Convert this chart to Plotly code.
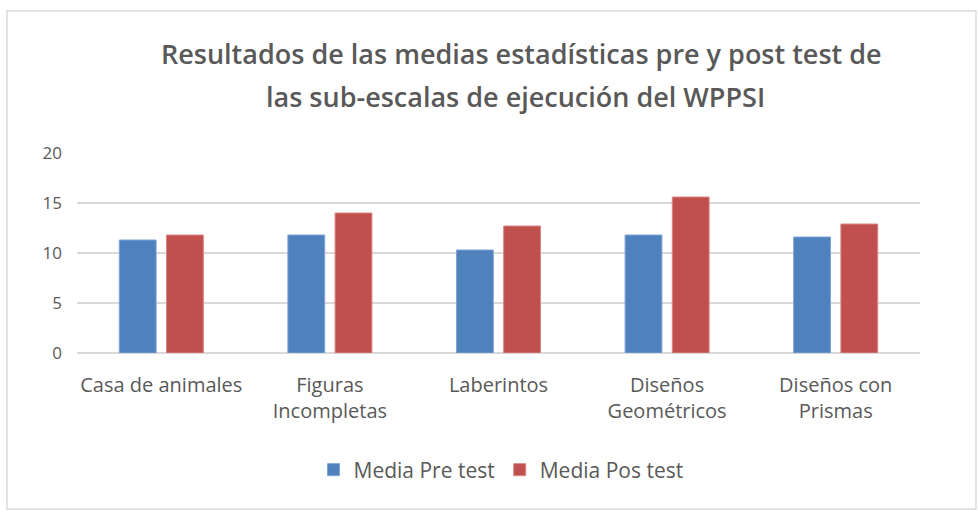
import plotly.graph_objects as go

categories = ["Casa de animales", "Figuras<br>Incompletas", "Laberintos",
              "Diseños<br>Geométricos", "Diseños con<br>Prismas"]
pre_test = [11.3, 11.8, 10.3, 11.8, 11.6]
post_test = [11.8, 14.0, 12.7, 15.6, 12.9]
y_ticks = [0, 5, 10, 15, 20]

W, H = 979, 511
L, R, T, B = 77, 59, 153, 158
pw, ph = W - L - R, H - T - B

font = "Open Sans"
grey = "#595959"

fig = go.Figure()
fig.add_trace(go.Bar(name="Media Pre test", x=categories, y=pre_test,
                     marker=dict(color="#4F81BD", line=dict(color="#7EA3D6", width=1))))
fig.add_trace(go.Bar(name="Media Pos test", x=categories, y=post_test,
                     marker=dict(color="#C0504D", line=dict(color="#D98683", width=1))))

def px_x(p):
    return (p - L) / pw

def px_y(p):
    return (H - B - p) / ph

fig.update_layout(
    width=W, height=H,
    margin=dict(l=L, r=R, t=T, b=B),
    paper_bgcolor="white", plot_bgcolor="white",
    barmode="group", bargap=0.44, bargroupgap=0.22,
    font=dict(family=font, color=grey, size=17),
    showlegend=True,
    legend=dict(orientation="h", x=0.503, xanchor="center", y=px_y(470), yanchor="middle",
                font=dict(size=21, color=grey), itemwidth=30, traceorder="normal"),
    xaxis=dict(showgrid=False, showline=False, ticks="", tickfont=dict(size=20, color=grey),
               ticklabelstandoff=18),
    yaxis=dict(range=[0, 20], tickvals=y_ticks, showgrid=True, gridcolor="#D9D9D9",
               gridwidth=1.5, zeroline=True, zerolinecolor="#D9D9D9", zerolinewidth=1.5,
               showline=False, ticks="", tickfont=dict(size=17, color=grey),
               ticklabelstandoff=14),
    shapes=[dict(type="rect", xref="paper", yref="paper",
                 x0=px_x(7), x1=px_x(976), y0=px_y(509), y1=px_y(11),
                 line=dict(color="#D9D9D9", width=1.5), fillcolor="rgba(0,0,0,0)", layer="below")],
    annotations=[
        dict(text="Resultados de las medias estadísticas pre y post test de",
             xref="paper", yref="paper", x=px_x(521), y=px_y(54), xanchor="center", yanchor="middle",
             showarrow=False, font=dict(size=27, color=grey, family=font, weight=600)),
        dict(text="las sub-escalas de ejecución del WPPSI",
             xref="paper", yref="paper", x=px_x(515), y=px_y(96), xanchor="center", yanchor="middle",
             showarrow=False, font=dict(size=27, color=grey, family=font, weight=600)),
    ],
)

fig.write_html("out.html", config={"displayModeBar": False},
               post_script="document.body.style.margin='0px';")
